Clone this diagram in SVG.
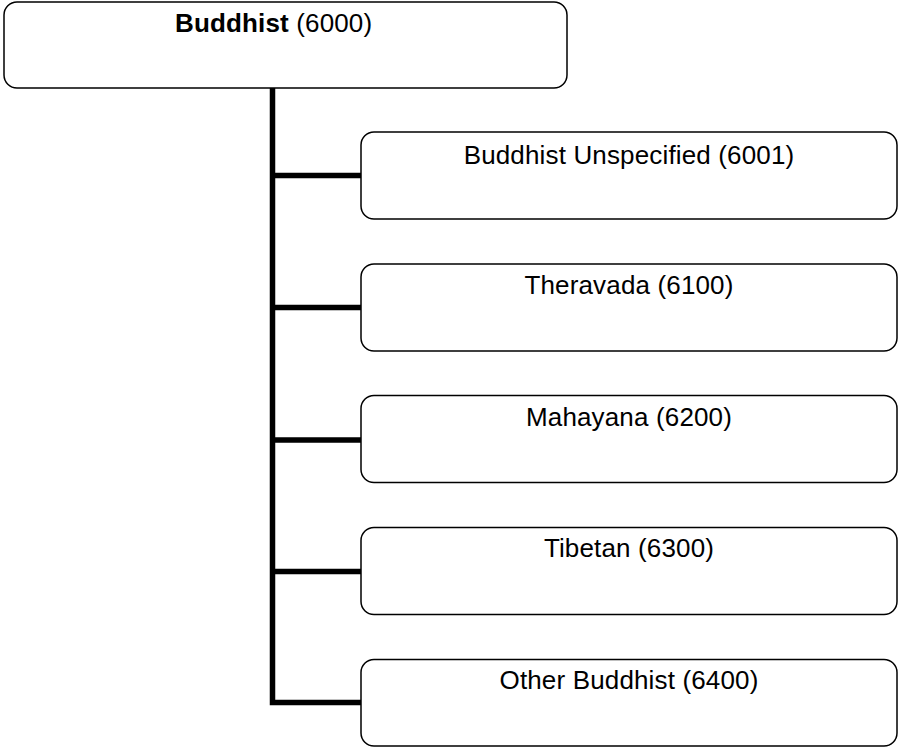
<svg xmlns="http://www.w3.org/2000/svg" width="899" height="748" viewBox="0 0 899 748">
<style>
.box{fill:#fff;stroke:#000;stroke-width:1.5}
.t{font-family:"Liberation Sans",Arial,sans-serif;font-size:26px;letter-spacing:0.15px;fill:#000}
.c{text-anchor:middle}
.conn{fill:none;stroke:#000;stroke-width:5.5}
</style>
<rect width="899" height="748" fill="#fff"/>
<g id="connectors">
<path class="conn" d="M272.5 88 V702.5 H361"/>
<path class="conn" d="M272.5 175.5 H361 M272.5 307.5 H361 M272.5 440 H361 M272.5 571.5 H361"/>
</g>
<g id="n6000"><rect class="box" x="4" y="2" width="563" height="86" rx="13"/><text class="t" x="175" y="32"><tspan font-weight="bold">Buddhist</tspan> (6000)</text></g>
<g id="n6001"><rect class="box" x="361" y="132" width="536" height="87" rx="13"/><text class="t c" x="629" y="163.5">Buddhist Unspecified (6001)</text></g>
<g id="n6100"><rect class="box" x="361" y="264" width="536" height="87" rx="13"/><text class="t c" x="629" y="293.5">Theravada (6100)</text></g>
<g id="n6200"><rect class="box" x="361" y="395.5" width="536" height="87" rx="13"/><text class="t c" x="629" y="426">Mahayana (6200)</text></g>
<g id="n6300"><rect class="box" x="361" y="527.5" width="536" height="87" rx="13"/><text class="t c" x="629" y="557">Tibetan (6300)</text></g>
<g id="n6400"><rect class="box" x="361" y="659.5" width="536" height="86.5" rx="13"/><text class="t c" x="629" y="688.5">Other Buddhist (6400)</text></g>
</svg>
